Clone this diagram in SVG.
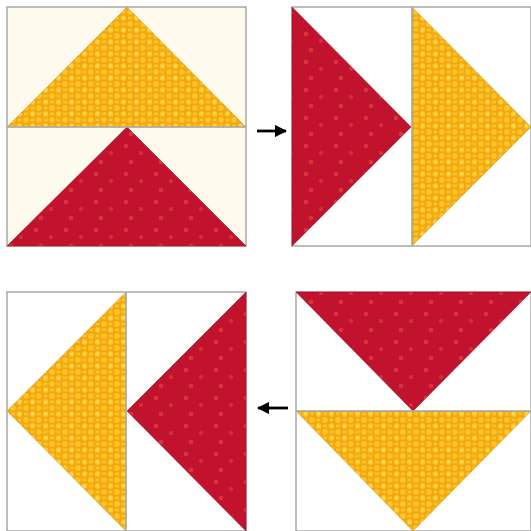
<svg xmlns="http://www.w3.org/2000/svg" width="531" height="531" viewBox="0 0 531 531">
<defs>
<pattern id="yel" width="13" height="12" patternUnits="userSpaceOnUse">
<rect width="13" height="12" fill="#fcc520"/>
<circle cx="6.5" cy="6" r="3.8" fill="none" stroke="#f3a414" stroke-width="1.8"/>
<circle cx="6.5" cy="6" r="1.8" fill="#fdd84c"/>
<circle cx="0" cy="0" r="3.8" fill="none" stroke="#f3a414" stroke-width="1.8"/>
<circle cx="13" cy="0" r="3.8" fill="none" stroke="#f3a414" stroke-width="1.8"/>
<circle cx="0" cy="12" r="3.8" fill="none" stroke="#f3a414" stroke-width="1.8"/>
<circle cx="13" cy="12" r="3.8" fill="none" stroke="#f3a414" stroke-width="1.8"/>
</pattern>
<pattern id="red" width="30" height="28" patternUnits="userSpaceOnUse">
<rect width="30" height="28" fill="#c1122e"/>
<circle cx="6" cy="6" r="2.3" fill="#d9353a"/>
<circle cx="21" cy="13" r="2.1" fill="#d5303a"/>
<circle cx="11" cy="22" r="2.3" fill="#d9353a"/>
</pattern>
<marker id="ah" viewBox="0 0 10 10" refX="9" refY="5" markerWidth="4.4" markerHeight="4.4" orient="auto">
<path d="M0,0 L10,5 L0,10 z" fill="#000"/>
</marker>
</defs>
<style>
.sq{stroke:#a8a8a8;stroke-width:1.5}
.y{fill:url(#yel);stroke:#c9a030;stroke-width:0.6}
.r{fill:url(#red);stroke:#9a1020;stroke-width:0.6}
.ln{stroke:#a8a8a8;stroke-width:1.5}
.arr{stroke:#000;stroke-width:2.8;fill:none}
</style>
<rect width="531" height="531" fill="#fff"/>
<g id="block1">
<rect class="sq" x="7" y="7" width="239" height="239" fill="#fefaee"/>
<polygon class="y" points="127,7 246,127 7,127"/>
<polygon class="r" points="127,127 246,246 7,246"/>
<line class="ln" x1="7" y1="127" x2="246" y2="127"/>
</g>
<g id="block2">
<rect class="sq" x="292" y="7" width="239" height="239" fill="#fff"/>
<polygon class="r" points="292,7 411,127 292,246"/>
<polygon class="y" points="412,7 531,127 412,246"/>
<line class="ln" x1="412" y1="7" x2="412" y2="246"/>
</g>
<g id="block3">
<rect class="sq" x="7" y="292" width="239" height="239" fill="#fff"/>
<polygon class="y" points="126,292 126,531 7,411"/>
<polygon class="r" points="246,292 246,531 127,411"/>
<line class="ln" x1="126" y1="292" x2="126" y2="531"/>
</g>
<g id="block4">
<rect class="sq" x="296" y="292" width="235" height="239" fill="#fff"/>
<polygon class="r" points="296,292 531,292 413,411"/>
<polygon class="y" points="296,411 531,411 413,531"/>
<line class="ln" x1="296" y1="411" x2="531" y2="411"/>
</g>
<g id="connectors">
<line class="arr" x1="257" y1="131" x2="286" y2="131" marker-end="url(#ah)"/>
<line class="arr" x1="288" y1="408" x2="258" y2="408" marker-end="url(#ah)"/>
</g>
</svg>
